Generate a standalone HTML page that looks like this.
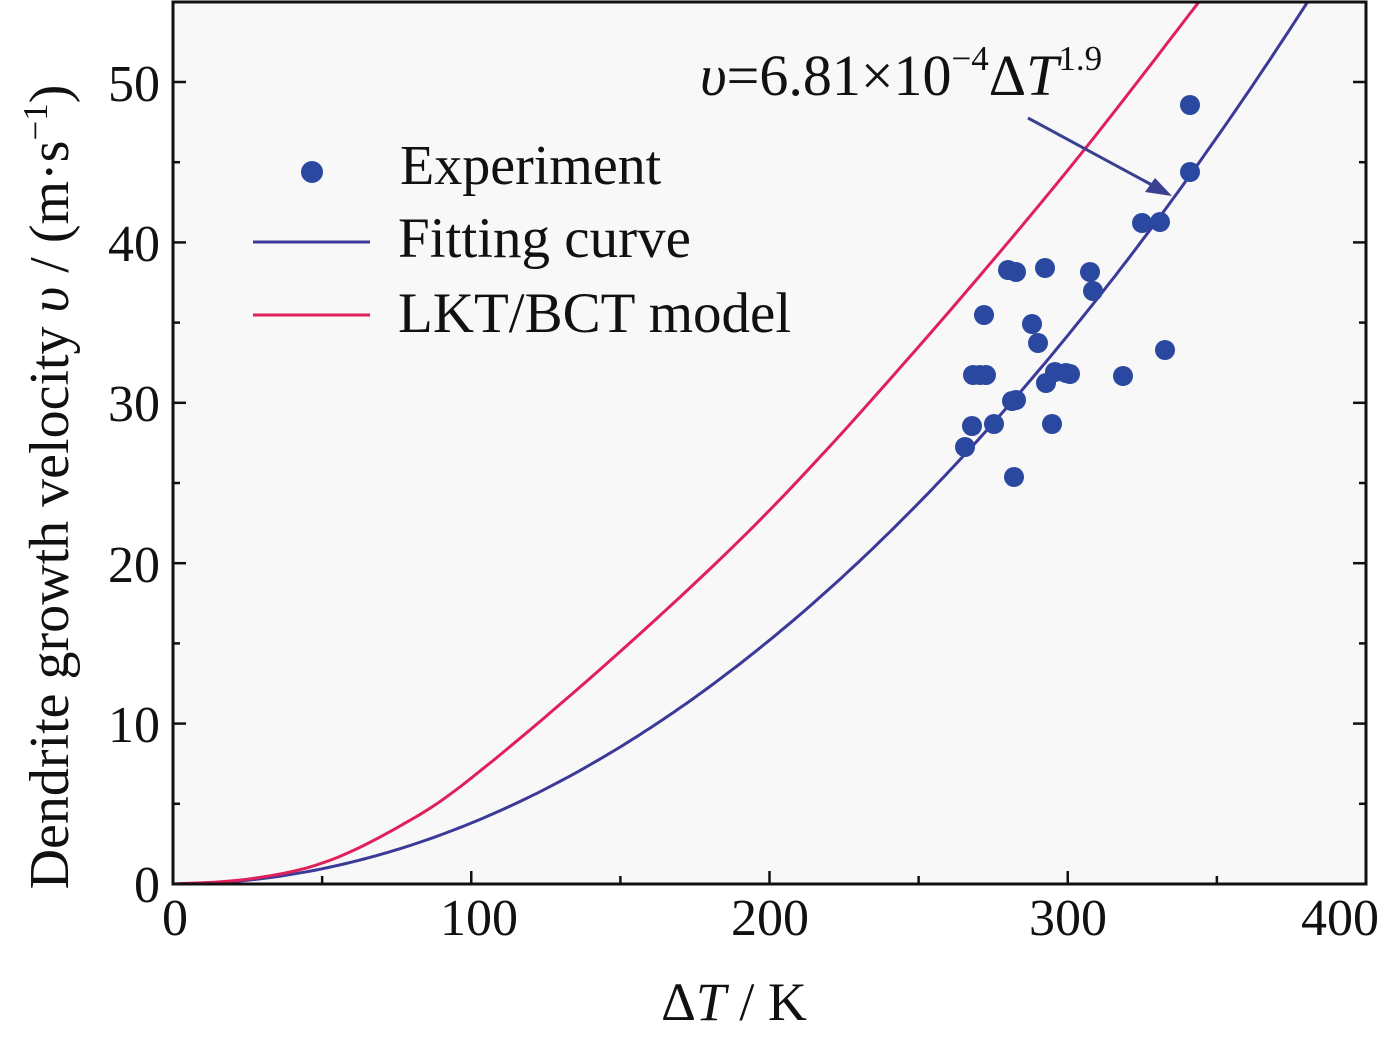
<!DOCTYPE html><html><head><style>body{margin:0;background:#fff}svg{display:block}text{font-family:"Liberation Serif",serif;fill:#111}</style></head><body>
<svg id="s" width="1382" height="1037" viewBox="0 0 1382 1037">
<rect width="1382" height="1037" fill="#fff"/>
<rect x="173" y="2" width="1193" height="882" fill="#f8f8f8"/>
<defs><clipPath id="c"><rect x="173" y="2" width="1193" height="882"/></clipPath></defs>
<g id="curves" clip-path="url(#c)"></g>
<rect x="173" y="2" width="1193" height="882" fill="none" stroke="#111" stroke-width="3"/>
<g id="ticks" stroke="#111" stroke-width="2.5"></g>
<g font-size="52" text-anchor="middle">
<text x="175" y="935">0</text><text x="479" y="935">100</text><text x="770" y="935">200</text><text x="1068" y="935">300</text><text x="1340" y="935">400</text>
</g>
<g font-size="52" text-anchor="end">
<text x="160" y="902">0</text><text x="160" y="742">10</text><text x="160" y="582">20</text><text x="160" y="421">30</text><text x="160" y="261">40</text><text x="160" y="101">50</text>
</g>
<text x="734" y="1020" font-size="54" text-anchor="middle">Δ<tspan font-style="italic">T</tspan> / K</text>
<text transform="translate(68,487) rotate(-90)" font-size="56" text-anchor="middle">Dendrite growth velocity <tspan font-style="italic">υ</tspan> / (m·s<tspan font-size="35" dy="-21">−1</tspan><tspan dy="21">)</tspan></text>
<text x="700" y="95" font-size="58"><tspan font-style="italic">υ</tspan>=6.81×10<tspan font-size="35" dy="-25">−4</tspan><tspan dy="25">Δ</tspan><tspan font-style="italic">T</tspan><tspan font-size="35" dy="-25">1.9</tspan></text>
<line x1="1028" y1="118" x2="1165" y2="192" stroke="#3a3f8f" stroke-width="3"/>
<path d="M1172,196 L1145,192 L1155,178 Z" fill="#3a3f8f"/>
<circle cx="312" cy="172" r="11" fill="#2b48a0"/>
<text x="400" y="184" font-size="56">Experiment</text>
<line x1="253" y1="242" x2="370" y2="242" stroke="#3c3a98" stroke-width="3"/>
<text x="398" y="257" font-size="57">Fitting curve</text>
<line x1="253" y1="315" x2="370" y2="315" stroke="#e0205a" stroke-width="3"/>
<text x="398" y="332" font-size="57">LKT/BCT model</text>
<g id="dots" fill="#2b48a0"></g>
</svg>
<script>
var X=t=>173+t*2.9825,Y=v=>884-v*16.04,ns="http://www.w3.org/2000/svg";
function mk(t,a,p){var e=document.createElementNS(ns,t);for(var k in a)e.setAttribute(k,a[k]);p.appendChild(e);return e}
var cv=document.getElementById('curves'),d='';
for(var t=0;t<=400;t+=2){d+=(t?'L':'M')+X(t).toFixed(1)+','+Y(3.8e-4*t*t).toFixed(1)}
mk('path',{d:d,fill:'none',stroke:'#3c3a98','stroke-width':3},cv);
var P=[[0,0],[25,0.3],[50,1.3],[75,3.5],[100,6.6],[150,14.5],[200,23.3],[250,33.5],[300,44.5],[344,55],[360,59],[380,64]];
function cr(i,u){var p0=P[Math.max(i-1,0)],p1=P[i],p2=P[i+1],p3=P[Math.min(i+2,P.length-1)];
return [0,1].map(k=>0.5*((2*p1[k])+(-p0[k]+p2[k])*u+(2*p0[k]-5*p1[k]+4*p2[k]-p3[k])*u*u+(-p0[k]+3*p1[k]-3*p2[k]+p3[k])*u*u*u));}
d='M'+X(0)+','+Y(0);
for(var i=0;i<P.length-1;i++)for(var j=1;j<=10;j++){var q=cr(i,j/10);d+='L'+X(q[0]).toFixed(1)+','+Y(q[1]).toFixed(1);}
mk('path',{d:d,fill:'none',stroke:'#e0205a','stroke-width':3,'stroke-linejoin':'round'},cv);
var tk=document.getElementById('ticks');
for(var v=0;v<=50;v+=10){mk('line',{x1:173,x2:186,y1:Y(v),y2:Y(v)},tk);mk('line',{x1:1353,x2:1366,y1:Y(v),y2:Y(v)},tk);}
for(var v=5;v<=55;v+=10){mk('line',{x1:173,x2:180,y1:Y(v),y2:Y(v)},tk);mk('line',{x1:1359,x2:1366,y1:Y(v),y2:Y(v)},tk);}
for(var t=0;t<=400;t+=50){var L=t%100?8:13;mk('line',{x1:X(t),x2:X(t),y1:884,y2:884-L},tk);}
var D=[[965,447],[972,426],[973,375],[980,375],[986,375],[984,315],[994,424],[1008,270],[1016,272],[1012,401],[1016,400],[1014,477],[1032,324],[1038,343],[1045,268],[1046,383],[1052,424],[1055,372],[1066,373],[1070,374],[1090,272],[1093,291],[1123,376],[1142,223],[1160,222],[1165,350],[1190,105],[1190,172]];
var g=document.getElementById('dots');D.forEach(p=>mk('circle',{cx:p[0],cy:p[1],r:10},g));
</script>
</body></html>
